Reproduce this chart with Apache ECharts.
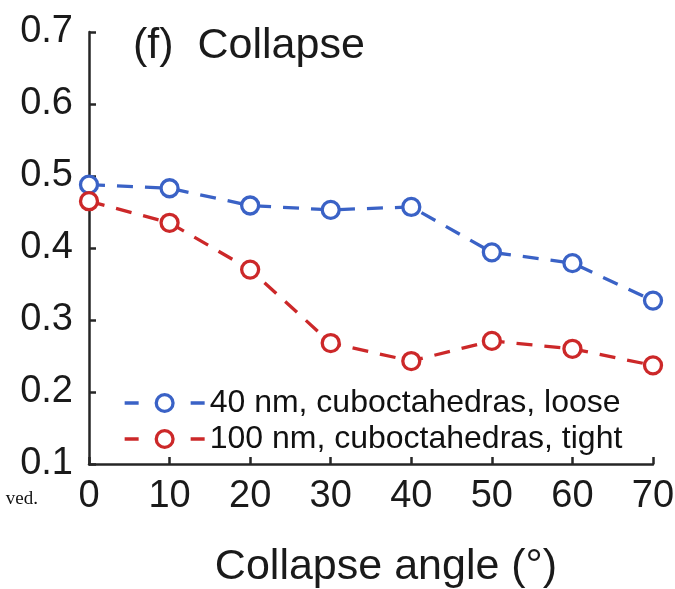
<!DOCTYPE html>
<html>
<head>
<meta charset="utf-8">
<script src="https://cdn.jsdelivr.net/npm/echarts@6/dist/echarts.min.js"></script>
<style>
  html, body { margin: 0; padding: 0; background: #fff; }
  #chart { width: 675px; height: 589px; }
</style>
</head>
<body>
<div id="chart"></div>
<script>
// Collapse angle in degrees
const angles = [0, 10, 20, 30, 40, 50, 60, 70];
// Measured values for the two particle configurations
const looseValues = [0.488, 0.483, 0.459, 0.453, 0.457, 0.394, 0.379, 0.327];
const tightValues = [0.465, 0.435, 0.370, 0.268, 0.243, 0.271, 0.260, 0.237];
const seriesNames = ['40 nm, cuboctahedras, loose', '100 nm, cuboctahedras, tight'];
const yTicks = [0.1, 0.2, 0.3, 0.4, 0.5, 0.6, 0.7];
const xTicks = [0, 10, 20, 30, 40, 50, 60, 70];

const BLUE = '#3a62c6';
const RED = '#cc2829';
const AXIS = '#262626';
const FONT = '"Liberation Sans", Arial, sans-serif';

const chart = echarts.init(document.getElementById('chart'), null, { renderer: 'canvas' });

function pairs(xs, ys) { return xs.map((x, i) => [x, ys[i]]); }

function lineSeries(name, values, color) {
  return {
    name: name,
    type: 'line',
    data: pairs(angles, values),
    symbol: 'circle',
    symbolSize: 17,
    showAllSymbol: true,
    lineStyle: { color: color, width: 3.3, type: [16, 12] },
    itemStyle: { color: '#fff', borderColor: color, borderWidth: 3.3 },
    emphasis: { disabled: true },
    animation: false,
    z: 3
  };
}

chart.setOption({
  animation: false,
  backgroundColor: '#fff',
  grid: { left: 89, right: 22, top: 32, bottom: 125, containLabel: false, outerBoundsMode: 'none' },
  xAxis: {
    type: 'value',
    min: xTicks[0],
    max: xTicks[xTicks.length - 1],
    interval: 10,
    name: 'Collapse angle (°)',
    nameLocation: 'middle',
    nameGap: 82,
    nameTextStyle: { fontFamily: FONT, fontSize: 43, color: '#1a1a1a', padding: [0, 0, 0, 30] },
    axisLine: { show: true, lineStyle: { color: AXIS, width: 2.5 } },
    axisTick: { show: true, inside: true, length: 7, lineStyle: { color: AXIS, width: 2.5 } },
    axisLabel: { fontFamily: FONT, fontSize: 38, color: '#1a1a1a', margin: 14 },
    splitLine: { show: false }
  },
  yAxis: {
    type: 'value',
    min: yTicks[0],
    max: yTicks[yTicks.length - 1],
    interval: 0.1,
    axisLine: { show: true, lineStyle: { color: AXIS, width: 2.5 } },
    axisTick: { show: true, inside: true, length: 7, lineStyle: { color: AXIS, width: 2.5 } },
    axisLabel: {
      fontFamily: FONT, fontSize: 38, color: '#1a1a1a', margin: 16,
      formatter: v => v.toFixed(1)
    },
    splitLine: { show: false }
  },
  legend: {
    left: 123,
    top: 387,
    padding: 0,
    orient: 'vertical',
    itemWidth: 80,
    itemHeight: 21,
    itemGap: 4,
    selectedMode: false,
    data: seriesNames,
    textStyle: { fontFamily: FONT, fontSize: 32, color: '#111' },
    lineStyle: { width: 3.3, type: [14, 52] },
    itemStyle: { color: '#fff', borderWidth: 3.3 }
  },
  graphic: [
    {
      type: 'text',
      x: 133,
      y: 46,
      style: { text: '(f)  Collapse', font: '43px ' + FONT, fill: '#1a1a1a', verticalAlign: 'middle' }
    },
    {
      type: 'text',
      x: 38,
      y: 499,
      style: { text: 'ved.', font: '19px "Liberation Serif", "Times New Roman", serif', fill: '#111', align: 'right', verticalAlign: 'middle' }
    }
  ],
  series: [
    lineSeries(seriesNames[0], looseValues, BLUE),
    lineSeries(seriesNames[1], tightValues, RED)
  ]
});
</script>
</body>
</html>
